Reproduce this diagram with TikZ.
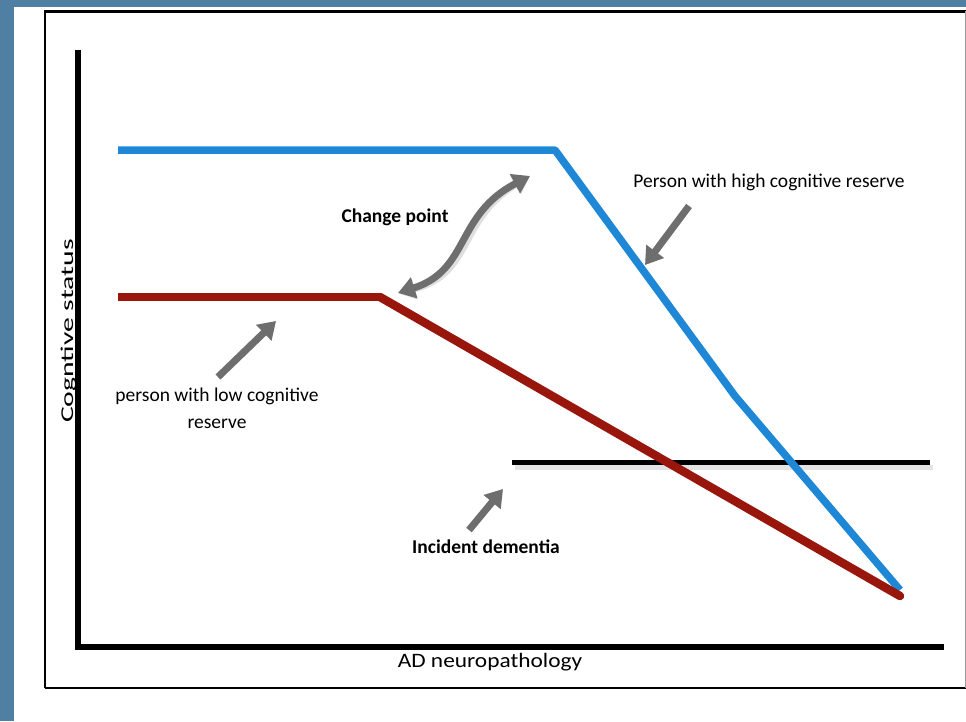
\documentclass[tikz,border=0pt]{standalone}
\usepackage{fontspec}
\setmainfont{Carlito}
\usetikzlibrary{arrows.meta}
\definecolor{frameblue}{RGB}{79,127,163}
\definecolor{highblue}{RGB}{30,136,214}
\definecolor{lowred}{RGB}{152,22,12}
\definecolor{arrowgray}{RGB}{110,110,110}
\definecolor{shadowgray}{RGB}{200,200,200}
\tikzset{
  lbl/.style={inner sep=0pt, font=\fontsize{19.5}{27}\selectfont},
  boldlbl/.style={lbl, font=\fontsize{19.5}{27}\selectfont\bfseries},
  axisline/.style={line width=6pt, black},
  curve/.style={line width=7.5pt, line cap=round, line join=round},
  pointer/.style={draw=arrowgray, line width=7pt, -{Triangle[length=17pt,width=21pt]}},
  pointershadow/.style={draw=shadowgray, line width=7pt, opacity=0.6, -{Triangle[length=17pt,width=21pt]}},
}
\begin{document}
\begin{tikzpicture}[x=1pt,y=-1pt]
\useasboundingbox (0,0) rectangle (966,721);
% background
\fill[frameblue] (0,0) rectangle (966,721);
\fill[white] (14,7) rectangle (966,721);
% frame
\draw[line width=1.5pt] (45,688) -- (45,11) -- (966,11);
\draw[line width=3pt] (45,11) -- (966,11);
\draw[line width=1.5pt] (45,688) -- (966,688);
\draw[line width=1pt, black!40] (965,11) -- (965,688);
% axes
\coordinate (ytop) at (78,50);
\coordinate (origin) at (78,647);
\coordinate (xend) at (944,647);
\draw[axisline] (ytop) -- (origin) -- (xend);
% incident dementia line
\coordinate (id1) at (512,462);
\coordinate (id2) at (930,462);
\draw[line width=5pt, shadowgray, opacity=0.5] ([shift={(3,5)}]id1) -- ([shift={(3,5)}]id2);
\draw[line width=5pt, black] (id1) -- (id2);
% curves
\coordinate (hstart) at (118,150);
\coordinate (hbreak) at (555,150);
\coordinate (hmid) at (735,396);
\coordinate (hend) at (900,590);
\draw[curve, highblue, line cap=butt] (hstart) -- (hbreak) -- (hmid) -- (hend);
\coordinate (lstart) at (118,297);
\coordinate (lbreak) at (380,297);
\coordinate (lend) at (900,596);
\draw[curve, lowred, line width=8.5pt, line cap=butt] (lstart) -- (lbreak);
\draw[curve, lowred, line width=8.5pt] (lbreak) -- (lend);
% labels
\node[boldlbl] (cp) at (395,217) {Change point};
\node[lbl] (high) at (769,182) {Person with high cognitive reserve};
\node[lbl, align=center] (low) at (217,408) {person with low cognitive\\reserve};
\node[boldlbl] (inc) at (486,547) {Incident dementia};
\node[lbl, font=\fontsize{20.5}{24}\selectfont, xscale=1.14] (xlab) at (490,662) {AD neuropathology};
\node[lbl, rotate=90, font=\fontsize{18}{22}\selectfont, xscale=1.65] (ylab) at (69,331) {Cogntive status};
% arrow end points
\coordinate (cpA) at (398,293);
\coordinate (cpB) at (530,176);
\coordinate (hiT) at (689,206);
\coordinate (hiH) at (645,265);
\coordinate (loT) at (218,377);
\coordinate (loH) at (276,321);
\coordinate (inT) at (469,530);
\coordinate (inH) at (503,489);
% shadows
\begin{scope}[shift={(3,4)}]
\draw[pointershadow, {Triangle[length=17pt,width=21pt]}-{Triangle[length=17pt,width=21pt]}] (cpA) .. controls (470,270) and (455,215) .. (cpB);
\draw[pointershadow] (hiT) -- (hiH);
\draw[pointershadow] (loT) -- (loH);
\draw[pointershadow] (inT) -- (inH);
\end{scope}
% pointers
\draw[pointer, {Triangle[length=17pt,width=21pt]}-{Triangle[length=17pt,width=21pt]}] (cpA) .. controls (470,270) and (455,215) .. (cpB);
\draw[pointer] (hiT) -- (hiH);
\draw[pointer] (loT) -- (loH);
\draw[pointer] (inT) -- (inH);
\end{tikzpicture}
\end{document}
